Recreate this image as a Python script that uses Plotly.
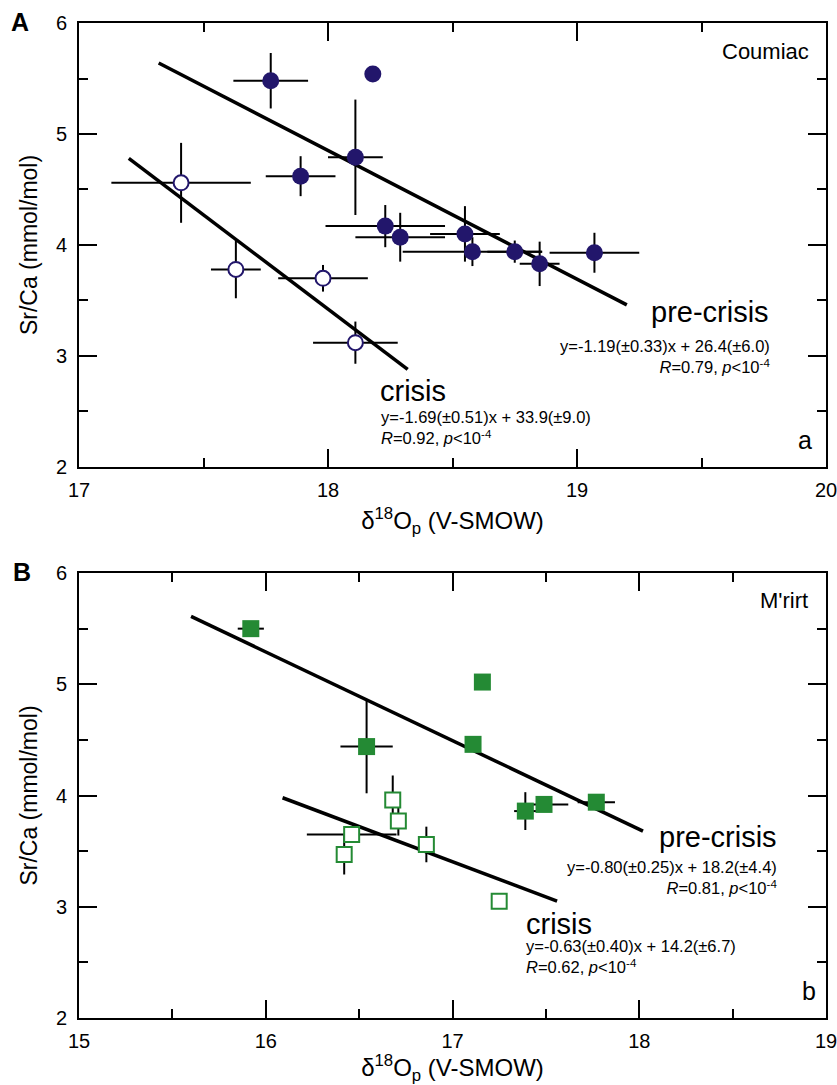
import plotly.graph_objects as go

# Panel A - Coumiac
a_pre_x = [17.77, 18.18, 18.11, 17.89, 18.23, 18.29, 18.55, 18.58, 18.75, 18.85, 19.07]
a_pre_y = [5.48, 5.54, 4.79, 4.62, 4.17, 4.07, 4.10, 3.94, 3.94, 3.83, 3.93]
a_pre_xerr = [0.15, 0, 0.11, 0.14, 0.24, 0.18, 0.14, 0.28, 0.11, 0.08, 0.18]
a_pre_yerr = [0.25, 0, 0.52, 0.18, 0.19, 0.22, 0.25, 0.13, 0.10, 0.20, 0.18]

a_cri_x = [17.41, 17.63, 17.98, 18.11]
a_cri_y = [4.56, 3.78, 3.70, 3.12]
a_cri_xerr = [0.28, 0.10, 0.18, 0.17]
a_cri_yerr = [0.36, 0.26, 0.12, 0.19]

a_fit_pre_x = [17.32, 19.20]
a_fit_pre_y = [5.64, 3.46]
a_fit_cri_x = [17.20, 18.32]
a_fit_cri_y = [4.78, 2.88]

# Panel B - M'rirt
b_pre_x = [15.92, 16.54, 17.16, 17.11, 17.39, 17.49, 17.77]
b_pre_y = [5.50, 4.44, 5.02, 4.46, 3.86, 3.92, 3.94]
b_pre_xerr = [0.07, 0.14, 0, 0, 0.06, 0.13, 0.10]
b_pre_yerr = [0, 0.42, 0, 0, 0.17, 0.06, 0]

b_cri_x = [16.68, 16.71, 16.46, 16.42, 16.86, 17.25]
b_cri_y = [3.96, 3.77, 3.65, 3.47, 3.56, 3.05]
b_cri_xerr = [0, 0, 0.24, 0, 0, 0]
b_cri_yerr = [0.22, 0.13, 0, 0.18, 0.16, 0]

b_fit_pre_x = [15.60, 18.02]
b_fit_pre_y = [5.61, 3.68]
b_fit_cri_x = [16.09, 17.56]
b_fit_cri_y = [3.98, 3.05]

NAVY = "#22166b"
GREEN = "#248a34"
FONT = "Liberation Sans, Arial, sans-serif"


def err(vals):
    return dict(type="data", array=vals, visible=True, color="black", thickness=2, width=0)


fig = go.Figure()

# fit lines
for xs, ys, xa, ya in [(a_fit_pre_x, a_fit_pre_y, "x", "y"), (a_fit_cri_x, a_fit_cri_y, "x", "y"),
                       (b_fit_pre_x, b_fit_pre_y, "x2", "y2"), (b_fit_cri_x, b_fit_cri_y, "x2", "y2")]:
    fig.add_trace(go.Scatter(x=xs, y=ys, mode="lines", line=dict(color="black", width=3.5),
                             xaxis=xa, yaxis=ya, showlegend=False, hoverinfo="skip"))

fig.add_trace(go.Scatter(x=a_pre_x, y=a_pre_y, mode="markers", error_x=err(a_pre_xerr), error_y=err(a_pre_yerr),
                         marker=dict(symbol="circle", size=17, color=NAVY, line=dict(width=0)),
                         xaxis="x", yaxis="y", showlegend=False))
fig.add_trace(go.Scatter(x=a_cri_x, y=a_cri_y, mode="markers", error_x=err(a_cri_xerr), error_y=err(a_cri_yerr),
                         marker=dict(symbol="circle", size=15, color="white", line=dict(width=2, color=NAVY)),
                         xaxis="x", yaxis="y", showlegend=False))
fig.add_trace(go.Scatter(x=b_pre_x, y=b_pre_y, mode="markers", error_x=err(b_pre_xerr), error_y=err(b_pre_yerr),
                         marker=dict(symbol="square", size=17, color=GREEN, line=dict(width=0)),
                         xaxis="x2", yaxis="y2", showlegend=False))
fig.add_trace(go.Scatter(x=b_cri_x, y=b_cri_y, mode="markers", error_x=err(b_cri_xerr), error_y=err(b_cri_yerr),
                         marker=dict(symbol="square", size=15, color="white", line=dict(width=2, color=GREEN)),
                         xaxis="x2", yaxis="y2", showlegend=False))

axis_common = dict(showgrid=False, zeroline=False, showline=True, linecolor="black", linewidth=2,
                   mirror="ticks", ticks="inside", ticklen=18, tickwidth=2, tickcolor="black",
                   automargin=False, ticklabeloverflow="allow",
                   tickfont=dict(family=FONT, size=20, color="black"),
                   minor=dict(ticks="inside", ticklen=9, tickwidth=2, tickcolor="black", dtick=0.5))

xtitle = dict(text="δ<sup>18</sup>O<sub>p</sub> (V-SMOW)", font=dict(family=FONT, size=24, color="black"), standoff=12)
ytitle = dict(text="Sr/Ca (mmol/mol)", font=dict(family=FONT, size=23, color="black"), standoff=12)

fig.update_layout(
    width=837, height=1085,
    margin=dict(l=79, r=11, t=23, b=67),
    paper_bgcolor="white", plot_bgcolor="white",
    xaxis=dict(domain=[0, 1], range=[17, 20], dtick=1, anchor="y", title=xtitle, ticklabelstandoff=4, **axis_common),
    yaxis=dict(domain=[0.5538, 1], range=[2, 6], dtick=1, anchor="x", title=ytitle, ticklabelstandoff=6, **axis_common),
    xaxis2=dict(domain=[0, 1], range=[15, 19], dtick=1, anchor="y2", title=xtitle, ticklabelstandoff=4, **axis_common),
    yaxis2=dict(domain=[0, 0.4472], range=[2, 6], dtick=1, anchor="x2", title=ytitle, ticklabelstandoff=6, **axis_common),
)

big = dict(family=FONT, size=29, color="black")
small = dict(family=FONT, size=16.5, color="black")
site = dict(family=FONT, size=22, color="black")
corner = dict(family=FONT, size=25, color="black")
panel = dict(family=FONT, size=25, color="black")

ann = [
    dict(x=-0.079, y=1.001, xref="paper", yref="paper", text="<b>A</b>", font=panel,
         xanchor="center", yanchor="middle", showarrow=False),
    dict(x=-0.076, y=0.448, xref="paper", yref="paper", text="<b>B</b>", font=panel,
         xanchor="center", yanchor="middle", showarrow=False),
    # panel A
    dict(x=19.94, y=5.74, xref="x", yref="y", text="Coumiac", font=site, xanchor="right", showarrow=False),
    dict(x=19.95, y=2.245, xref="x", yref="y", text="a", font=corner, xanchor="right", showarrow=False),
    dict(x=19.78, y=3.40, xref="x", yref="y", text="pre-crisis", font=big, xanchor="right", showarrow=False),
    dict(x=19.785, y=2.997, xref="x", yref="y", xanchor="right", align="right", font=small, showarrow=False,
         text="y=-1.19(±0.33)x + 26.4(±6.0)<br><i>R</i>=0.79, <i>p</i><10<sup>-4</sup>"),
    dict(x=18.20, y=2.68, xref="x", yref="y", text="crisis", font=big, xanchor="left", showarrow=False),
    dict(x=18.205, y=2.355, xref="x", yref="y", xanchor="left", align="left", font=small, showarrow=False,
         text="y=-1.69(±0.51)x + 33.9(±9.0)<br><i>R</i>=0.92, <i>p</i><10<sup>-4</sup>"),
    # panel B
    dict(x=18.915, y=5.755, xref="x2", yref="y2", text="M'rirt", font=site, xanchor="right", showarrow=False),
    dict(x=18.955, y=2.24, xref="x2", yref="y2", text="b", font=corner, xanchor="right", showarrow=False),
    dict(x=18.746, y=3.624, xref="x2", yref="y2", text="pre-crisis", font=big, xanchor="right", showarrow=False),
    dict(x=18.748, y=3.265, xref="x2", yref="y2", xanchor="right", align="right", font=small, showarrow=False,
         text="y=-0.80(±0.25)x + 18.2(±4.4)<br><i>R</i>=0.81, <i>p</i><10<sup>-4</sup>"),
    dict(x=17.385, y=2.842, xref="x2", yref="y2", text="crisis", font=big, xanchor="left", showarrow=False),
    dict(x=17.385, y=2.55, xref="x2", yref="y2", xanchor="left", align="left", font=small, showarrow=False,
         text="y=-0.63(±0.40)x + 14.2(±6.7)<br><i>R</i>=0.62, <i>p</i><10<sup>-4</sup>"),
]
fig.update_layout(annotations=ann)

fig.write_html("out.html", config={"displayModeBar": False},
               post_script="document.body.style.margin='0';")
